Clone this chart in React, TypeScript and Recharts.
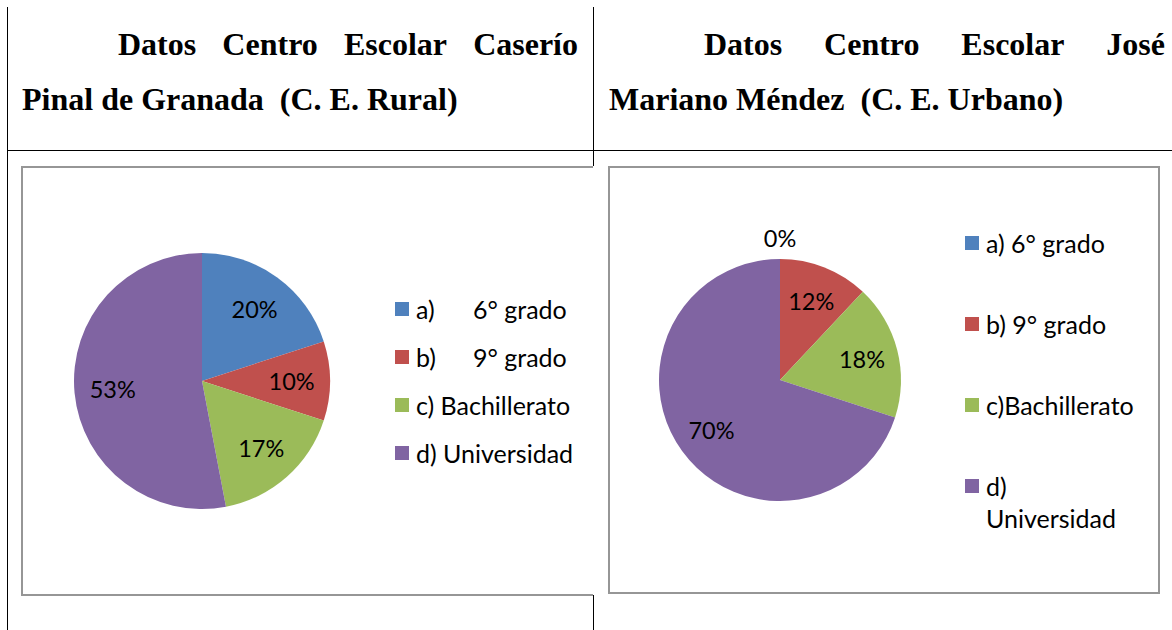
import React from "react";
import { PieChart, Pie, Legend } from "recharts";

const leftCategories = ["a)\t6° grado", "b)\t9° grado", "c) Bachillerato", "d) Universidad"];
const leftValues = [20, 10, 17, 53];
const rightCategories = ["a) 6° grado", "b) 9° grado", "c)Bachillerato", "d) Universidad"];
const rightValues = [0, 12, 18, 70];
const sliceColors = ["#4F81BD", "#C0504D", "#9BBB59", "#8064A2"];

const leftTitle1 = ["Datos", "Centro", "Escolar", "Caserío"];
const leftTitle2 = "Pinal de Granada\u00a0 (C. E. Rural)";
const rightTitle1 = ["Datos", "Centro", "Escolar", "José"];
const rightTitle2 = "Mariano Méndez\u00a0 (C. E. Urbano)";

const leftData = leftCategories.map((name, i) => ({ name, value: leftValues[i], fill: sliceColors[i] }));
const rightData = rightCategories.map((name, i) => ({ name, value: rightValues[i], fill: sliceColors[i] }));

const SANS = "Lato, 'Noto Sans', sans-serif";
const SERIF = "'Liberation Serif', 'Times New Roman', serif";

const renderLabel = (props: any) => {
  const { cx, cy, midAngle, outerRadius, value } = props;
  const RAD = Math.PI / 180;
  const r = value === 0 ? outerRadius + 21 : outerRadius * 0.7;
  const x = cx + r * Math.cos(-midAngle * RAD);
  const y = cy + r * Math.sin(-midAngle * RAD);
  return (
    <text x={x} y={y} textAnchor="middle" dominantBaseline="central" fill="#000" fontFamily={SANS} fontSize={23.5}>
      {`${value}%`}
    </text>
  );
};

const makeLegend = (itemHeight: number, textWidth: number, tabOffset: number) => (props: any) => {
  const payload = props.payload || [];
  return (
    <div style={{ fontFamily: SANS, fontSize: 25, color: "#000", position: "relative" }}>
      {payload.map((p: any, i: number) => {
        const parts = String(p.value).split("\t");
        return (
          <div key={i} style={{ position: "relative", height: itemHeight, lineHeight: "32px" }}>
            <span style={{ position: "absolute", left: 0, top: 9, width: 14, height: 14, background: p.color }} />
            <div style={{ position: "absolute", left: 21, top: 0, width: textWidth, whiteSpace: "normal" }}>
              {parts[0]}
              {parts.length > 1 && <span style={{ position: "absolute", left: tabOffset, top: 0, whiteSpace: "nowrap" }}>{parts[1]}</span>}
            </div>
          </div>
        );
      })}
    </div>
  );
};

const line = (left: number, top: number, width: number, height: number) => (
  <div style={{ position: "absolute", left, top, width, height, background: "#000" }} />
);

const titleStyle: React.CSSProperties = {
  position: "absolute",
  fontFamily: SERIF,
  fontWeight: "bold",
  fontSize: 32,
  lineHeight: "32px",
  color: "#000",
  whiteSpace: "pre",
};

export default function App() {
  return (
    <div style={{ position: "absolute", left: 0, top: 0, width: 1172, height: 630, background: "#fff", overflow: "hidden" }}>
      {line(7, 7, 1, 623)}
      {line(7, 150, 1165, 1)}
      {line(593, 7, 1, 159)}
      {line(593, 595, 1, 35)}

      <div style={{ ...titleStyle, left: 118, top: 28, width: 460, display: "flex", justifyContent: "space-between" }}>
        {leftTitle1.map((w, i) => <span key={i}>{w}</span>)}
      </div>
      <div style={{ ...titleStyle, left: 22, top: 83 }}>{leftTitle2}</div>
      <div style={{ ...titleStyle, left: 704, top: 28, width: 461, display: "flex", justifyContent: "space-between" }}>
        {rightTitle1.map((w, i) => <span key={i}>{w}</span>)}
      </div>
      <div style={{ ...titleStyle, left: 609, top: 83 }}>{rightTitle2}</div>

      <div style={{ position: "absolute", left: 22, top: 167 }}>
        <PieChart width={571} height={428} margin={{ top: 0, right: 0, bottom: 0, left: 0 }}>
          <Pie
            data={leftData}
            dataKey="value"
            nameKey="name"
            cx={180}
            cy={214}
            outerRadius={128}
            startAngle={90}
            endAngle={-270}
            stroke="none"
            label={renderLabel}
            labelLine={false}
            isAnimationActive={false}
          />
          <Legend
            layout="vertical"
            align="right"
            verticalAlign="middle"
            content={makeLegend(48, 175, 57)}
            wrapperStyle={{ left: 373, top: 126, width: 195, height: 200 }}
          />
        </PieChart>
      </div>

      <div style={{ position: "absolute", left: 609, top: 167 }}>
        <PieChart width={550} height={426} margin={{ top: 0, right: 0, bottom: 0, left: 0 }}>
          <Pie
            data={rightData}
            dataKey="value"
            nameKey="name"
            cx={171}
            cy={213}
            outerRadius={121}
            startAngle={90}
            endAngle={-270}
            stroke="none"
            label={renderLabel}
            labelLine={false}
            isAnimationActive={false}
          />
          <Legend
            layout="vertical"
            align="right"
            verticalAlign="middle"
            content={makeLegend(81, 151, 0)}
            wrapperStyle={{ left: 356, top: 60, width: 180, height: 360 }}
          />
        </PieChart>
      </div>

      <div style={{ position: "absolute", left: 21, top: 166, width: 572, height: 430, boxSizing: "border-box", borderTop: "2px solid #969696", borderLeft: "2px solid #969696", borderBottom: "2px solid #969696" }} />
      <div style={{ position: "absolute", left: 608, top: 166, width: 552, height: 428, boxSizing: "border-box", border: "2px solid #969696" }} />
    </div>
  );
}
